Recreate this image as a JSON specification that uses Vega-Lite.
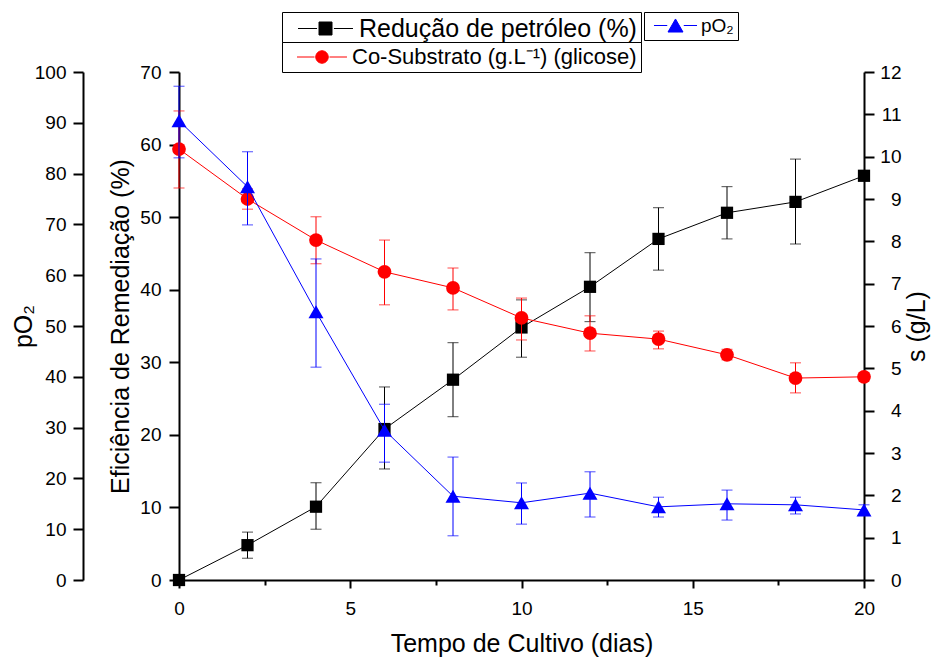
{
  "$schema": "https://vega.github.io/schema/vega-lite/v6.json",
  "autosize": {"type": "none"},
  "width": 685,
  "height": 508,
  "padding": {"left": 179, "top": 72, "right": 67, "bottom": 80},
  "background": "white",
  "config": {
    "view": {"stroke": null},
    "font": "Liberation Sans",
    "axis": {
      "grid": false,
      "domainColor": "black",
      "domainWidth": 2,
      "tickColor": "black",
      "tickWidth": 2,
      "labelFont": "Liberation Sans",
      "labelFontSize": 19,
      "labelColor": "black",
      "labelOverlap": false,
      "labelFlush": false,
      "titleFont": "Liberation Sans",
      "titleFontSize": 25,
      "titleFontWeight": "normal",
      "titleColor": "black"
    },
    "legend": {
      "labelFont": "Liberation Sans",
      "labelColor": "black",
      "labelLimit": 600,
      "strokeColor": "black",
      "cornerRadius": 0,
      "fillColor": "white",
      "symbolOpacity": 1,
      "padding": 4
    }
  },
  "datasets": {
    "pet": [
      {"t": 0, "v": 0, "lo": 0, "hi": 0},
      {"t": 2, "v": 4.8, "lo": 3.0, "hi": 6.6},
      {"t": 4, "v": 10.1, "lo": 7.0, "hi": 13.4},
      {"t": 6, "v": 20.8, "lo": 15.3, "hi": 26.6},
      {"t": 8, "v": 27.6, "lo": 22.5, "hi": 32.7},
      {"t": 10, "v": 34.8, "lo": 30.7, "hi": 38.6},
      {"t": 12, "v": 40.4, "lo": 35.6, "hi": 45.1},
      {"t": 14, "v": 47.0, "lo": 42.7, "hi": 51.3},
      {"t": 16, "v": 50.6, "lo": 47.0, "hi": 54.2},
      {"t": 18, "v": 52.1, "lo": 46.3, "hi": 58.0},
      {"t": 20, "v": 55.7, "lo": 55.7, "hi": 55.7}
    ],
    "gli": [
      {"t": 0, "v": 10.18, "lo": 9.26, "hi": 11.08},
      {"t": 2, "v": 9.0, "lo": 8.76, "hi": 9.24},
      {"t": 4, "v": 8.03, "lo": 7.47, "hi": 8.58},
      {"t": 6, "v": 7.28, "lo": 6.5, "hi": 8.03},
      {"t": 8, "v": 6.9, "lo": 6.38, "hi": 7.37},
      {"t": 10, "v": 6.19, "lo": 5.67, "hi": 6.66},
      {"t": 12, "v": 5.83, "lo": 5.41, "hi": 6.24},
      {"t": 14, "v": 5.69, "lo": 5.46, "hi": 5.88},
      {"t": 16, "v": 5.32, "lo": 5.2, "hi": 5.45},
      {"t": 18, "v": 4.77, "lo": 4.42, "hi": 5.13},
      {"t": 20, "v": 4.8, "lo": 4.7, "hi": 4.9}
    ],
    "po2": [
      {"t": 0, "v": 90.4, "lo": 83.1, "hi": 97.2},
      {"t": 2, "v": 77.4, "lo": 69.9, "hi": 84.3},
      {"t": 4, "v": 52.8, "lo": 41.9, "hi": 63.2},
      {"t": 6, "v": 29.5, "lo": 23.2, "hi": 34.6},
      {"t": 8, "v": 16.5, "lo": 8.7, "hi": 24.2},
      {"t": 10, "v": 15.2, "lo": 11.0, "hi": 19.1},
      {"t": 12, "v": 17.1, "lo": 12.4, "hi": 21.3},
      {"t": 14, "v": 14.4, "lo": 12.4, "hi": 16.3},
      {"t": 16, "v": 15.0, "lo": 11.8, "hi": 17.7},
      {"t": 18, "v": 14.8, "lo": 13.0, "hi": 16.3},
      {"t": 20, "v": 13.8, "lo": 12.8, "hi": 14.8}
    ]
  },
  "layer": [
    {
      "data": {"name": "pet"},
      "encoding": {
        "x": {
          "field": "t", "type": "quantitative",
          "scale": {"domain": [0, 20], "nice": false},
          "axis": {
            "title": "Tempo de Cultivo (dias)",
            "values": [0, 2.5, 5, 7.5, 10, 12.5, 15, 17.5, 20],
            "labelExpr": "datum.value % 5 === 0 ? datum.label : ''",
            "tickSize": {"condition": {"test": "datum.value % 5 === 0", "value": 8}, "value": 5},
            "labelPadding": 11,
            "titlePadding": 13
          }
        },
        "color": {
          "datum": "Redução de petróleo (%)",
          "type": "nominal",
          "scale": {"range": ["black"]},
          "legend": {
            "orient": "none", "legendX": 103, "legendY": -60,
            "title": null,
            "labelFontSize": 25, "labelOffset": 21,
            "symbolType": "M-4.23,0H-1.3M-1,-1H1V1H-1ZM1.3,0H4.23",
            "symbolSize": 169, "symbolStrokeWidth": 1, "symbolOffset": 27,
            "symbolFillColor": "black", "symbolStrokeColor": "black"
          }
        }
      },
      "layer": [
        {
          "mark": {"type": "errorbar", "ticks": {"size": 11}, "thickness": 1},
          "encoding": {
            "y": {"field": "lo", "type": "quantitative", "scale": {"domain": [0, 70], "nice": false},
              "axis": {"orient": "left", "title": "Eficiência de Remediação (%)"}},
            "y2": {"field": "hi"}
          }
        },
        {
          "mark": {"type": "line", "strokeWidth": 1},
          "encoding": {
            "y": {"field": "v", "type": "quantitative", "scale": {"domain": [0, 70], "nice": false},
              "axis": {
                "orient": "left",
                "title": "Eficiência de Remediação (%)",
                "values": [0, 5, 10, 15, 20, 25, 30, 35, 40, 45, 50, 55, 60, 65, 70],
                "labelExpr": "datum.value % 10 === 0 ? datum.label : ''",
                "tickSize": {"condition": {"test": "datum.value % 10 === 0", "value": 10}, "value": 5},
                "labelPadding": 8,
                "titlePadding": 6
              }}
          }
        },
        {
          "mark": {"type": "point", "shape": "square", "filled": true, "size": 150, "opacity": 1},
          "encoding": {
            "y": {"field": "v", "type": "quantitative", "scale": {"domain": [0, 70], "nice": false},
              "axis": {"orient": "left", "title": "Eficiência de Remediação (%)"}}
          }
        }
      ]
    },
    {
      "data": {"name": "gli"},
      "encoding": {
        "x": {"field": "t", "type": "quantitative", "scale": {"domain": [0, 20], "nice": false},
          "axis": {"title": "Tempo de Cultivo (dias)"}},
        "color": {
          "datum": "Co-Substrato (g.L⁻¹) (glicose)",
          "type": "nominal",
          "scale": {"range": ["red"]},
          "legend": {
            "orient": "none", "legendX": 103, "legendY": -30,
            "title": null,
            "labelFontSize": 22, "labelOffset": 19,
            "symbolType": "M-4,0H-1.2M1,0A1,1,0,1,1,-1,0A1,1,0,1,1,1,0ZM1.2,0H4",
            "symbolSize": 156, "symbolStrokeWidth": 1, "symbolOffset": 25,
            "symbolFillColor": "red", "symbolStrokeColor": "red"
          }
        }
      },
      "layer": [
        {
          "mark": {"type": "errorbar", "ticks": {"size": 11}, "thickness": 1},
          "encoding": {
            "y": {"field": "lo", "type": "quantitative", "scale": {"domain": [0, 12], "nice": false},
              "axis": {"orient": "right", "title": "s (g/L)"}},
            "y2": {"field": "hi"}
          }
        },
        {
          "mark": {"type": "line", "strokeWidth": 1},
          "encoding": {
            "y": {"field": "v", "type": "quantitative", "scale": {"domain": [0, 12], "nice": false},
              "axis": {
                "orient": "right",
                "title": "s (g/L)",
                "titleAngle": -90,
                "titleBaseline": "top",
                "values": [0, 0.5, 1, 1.5, 2, 2.5, 3, 3.5, 4, 4.5, 5, 5.5, 6, 6.5, 7, 7.5, 8, 8.5, 9, 9.5, 10, 10.5, 11, 11.5, 12],
                "labelExpr": "datum.value % 1 === 0 ? datum.label : ''",
                "tickSize": {"condition": {"test": "datum.value % 1 === 0", "value": 10}, "value": 5},
                "labelAlign": "right",
                "labelPadding": 27,
                "titlePadding": 3
              }}
          }
        },
        {
          "mark": {"type": "point", "shape": "circle", "filled": true, "size": 190, "opacity": 1},
          "encoding": {
            "y": {"field": "v", "type": "quantitative", "scale": {"domain": [0, 12], "nice": false},
              "axis": {"orient": "right", "title": "s (g/L)"}}
          }
        }
      ]
    },
    {
      "data": {"name": "po2"},
      "encoding": {
        "x": {"field": "t", "type": "quantitative", "scale": {"domain": [0, 20], "nice": false},
          "axis": {"title": "Tempo de Cultivo (dias)"}},
        "color": {
          "datum": "pO₂",
          "type": "nominal",
          "scale": {"range": ["blue"]},
          "legend": {
            "orient": "none", "legendX": 465, "legendY": -60,
            "title": null,
            "labelFontSize": 19, "labelOffset": 16,
            "symbolType": "M-2.87,0H-1.1M0,-0.87L1,0.87L-1,0.87ZM1.1,0H2.87",
            "symbolSize": 225, "symbolStrokeWidth": 1, "symbolOffset": 18,
            "symbolFillColor": "blue", "symbolStrokeColor": "blue"
          }
        }
      },
      "layer": [
        {
          "mark": {"type": "errorbar", "ticks": {"size": 11}, "thickness": 1},
          "encoding": {
            "y": {"field": "lo", "type": "quantitative", "scale": {"domain": [0, 100], "nice": false},
              "axis": {"orient": "left", "title": "pO₂"}},
            "y2": {"field": "hi"}
          }
        },
        {
          "mark": {"type": "line", "strokeWidth": 1},
          "encoding": {
            "y": {"field": "v", "type": "quantitative", "scale": {"domain": [0, 100], "nice": false},
              "axis": {
                "orient": "left",
                "title": "pO₂",
                "offset": 96,
                "values": [0, 5, 10, 15, 20, 25, 30, 35, 40, 45, 50, 55, 60, 65, 70, 75, 80, 85, 90, 95, 100],
                "labelExpr": "datum.value % 10 === 0 ? datum.label : ''",
                "tickSize": {"condition": {"test": "datum.value % 10 === 0", "value": 10}, "value": 5},
                "labelPadding": 7,
                "titlePadding": -2
              }}
          }
        },
        {
          "mark": {"type": "point", "shape": "triangle-up", "filled": true, "size": 225, "opacity": 1},
          "encoding": {
            "y": {"field": "v", "type": "quantitative", "scale": {"domain": [0, 100], "nice": false},
              "axis": {"orient": "left", "title": "pO₂"}}
          }
        }
      ]
    }
  ],
  "resolve": {
    "scale": {"y": "independent", "color": "independent"},
    "legend": {"color": "independent"}
  }
}
